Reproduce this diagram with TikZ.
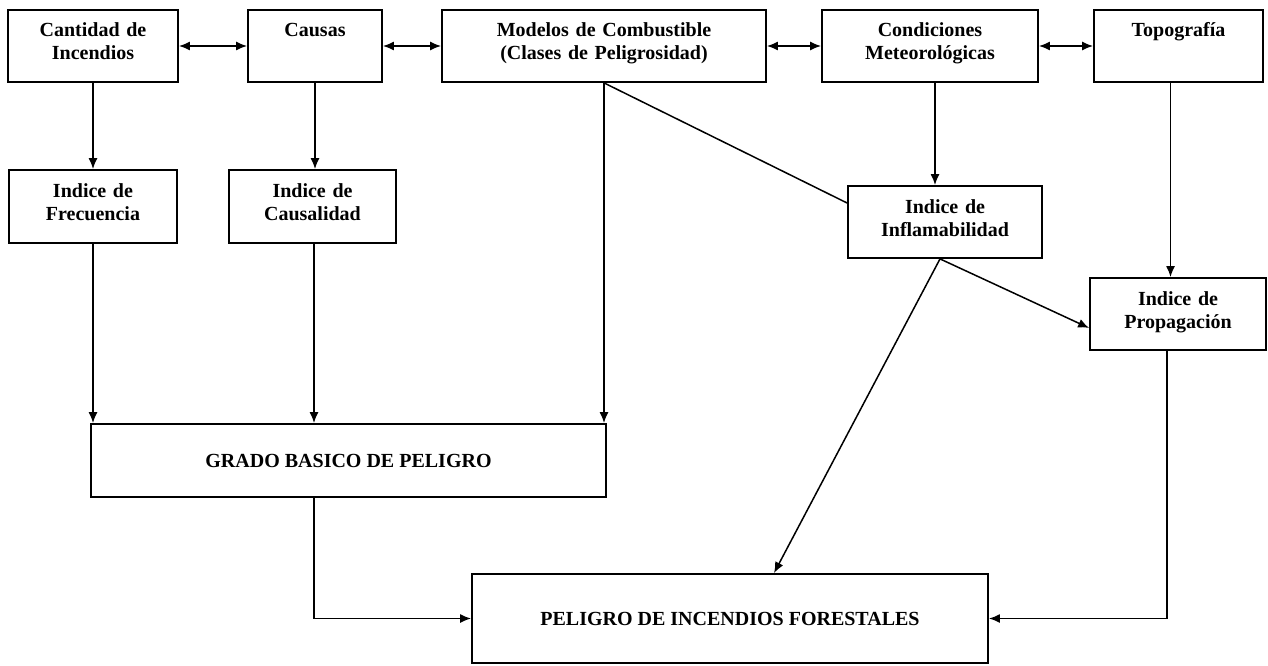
\documentclass[tikz,border=0pt]{standalone}
\usepackage{fontspec}
\setmainfont{Liberation Serif}
\usetikzlibrary{positioning,arrows.meta}

\begin{document}
\begin{tikzpicture}[x=1pt, y=-1pt,
    box/.style={draw, line width=1.8pt, align=center, inner sep=0pt,
                font=\bfseries\fontsize{20}{23}\selectfont},
    twoline/.style={text height=14pt, text depth=32pt},
    conn/.style={line width=1.5pt, -{Latex[length=11pt,width=9pt]}},
    both/.style={line width=1.5pt, {Latex[length=11pt,width=9pt]}-{Latex[length=11pt,width=9pt]}}]

  \useasboundingbox (0,0) rectangle (1268,666);

  % fila superior
  \node[box, twoline, minimum width=170pt, minimum height=72pt,
        text width=160pt] (CI) at (93,46) {Cantidad de\\Incendios};
  \node[box, twoline, minimum width=134pt, minimum height=72pt,
        text width=124pt] (CA) at (315,46) {Causas};
  \node[box, twoline, minimum width=324pt, minimum height=72pt,
        text width=314pt] (MC) at (604,46) {Modelos de Combustible\\(Clases de Peligrosidad)};
  \node[box, twoline, minimum width=216pt, minimum height=72pt,
        text width=206pt] (CM) at (930,46) {Condiciones\\Meteorológicas};
  \node[box, twoline, minimum width=169pt, minimum height=72pt,
        text width=159pt] (TO) at (1178.5,46) {Topografía};

  % indices
  \node[box, twoline, minimum width=168pt, minimum height=73pt,
        text width=158pt] (IF) at (93,206.5) {Indice de\\Frecuencia};
  \node[box, twoline, minimum width=167pt, minimum height=73pt,
        text width=157pt] (IC) at (312.5,206.5) {Indice de\\Causalidad};
  \node[box, twoline, minimum width=194pt, minimum height=72pt,
        text width=184pt] (II) at (945,222) {Indice de\\Inflamabilidad};
  \node[box, twoline, minimum width=176pt, minimum height=72pt,
        text width=166pt] (IP) at (1178,314) {Indice de\\Propagación};

  % resultados
  \node[box, minimum width=515pt, minimum height=73pt] (GB) at (348.5,460.5)
    {GRADO BASICO DE PELIGRO};
  \node[box, minimum width=516pt, minimum height=89pt] (PF) at (730,618.5)
    {PELIGRO DE INCENDIOS FORESTALES};

  \draw[both] (CI) -- (CA);
  \draw[both] (CA) -- (MC);
  \draw[both] (MC) -- (CM);
  \draw[both] (CM) -- (TO);

  \draw[conn] (CI.south) -- (CI.south |- IF.north);
  \draw[conn] (CA.south) -- (CA.south |- IC.north);
  \draw[conn] ([xshift=5pt]CM.south) -- ([xshift=5pt]CM.south |- II.north);
  \draw[conn] ([xshift=-8pt]TO.south) -- ([xshift=-8pt]TO.south |- IP.north);
  \draw[line width=1.5pt] (MC.south) -- ([yshift=19pt]II.west);

  \draw[conn] (IF.south) -- (IF.south |- GB.north);
  \draw[conn] ([xshift=1.5pt]IC.south) -- ([xshift=1.5pt]IC.south |- GB.north);
  \draw[conn] (MC.south) -- (MC.south |- GB.north);

  \draw[conn] ([xshift=-5pt]II.south) -- ([yshift=-14pt]IP.west);
  \draw[conn] ([xshift=-5pt]II.south) -- ([xshift=44pt]PF.north);

  \draw[conn] ([xshift=-34.5pt]GB.south) |- (PF.west);
  \draw[conn] ([xshift=-11pt]IP.south) |- (PF.east);

\end{tikzpicture}
\end{document}
